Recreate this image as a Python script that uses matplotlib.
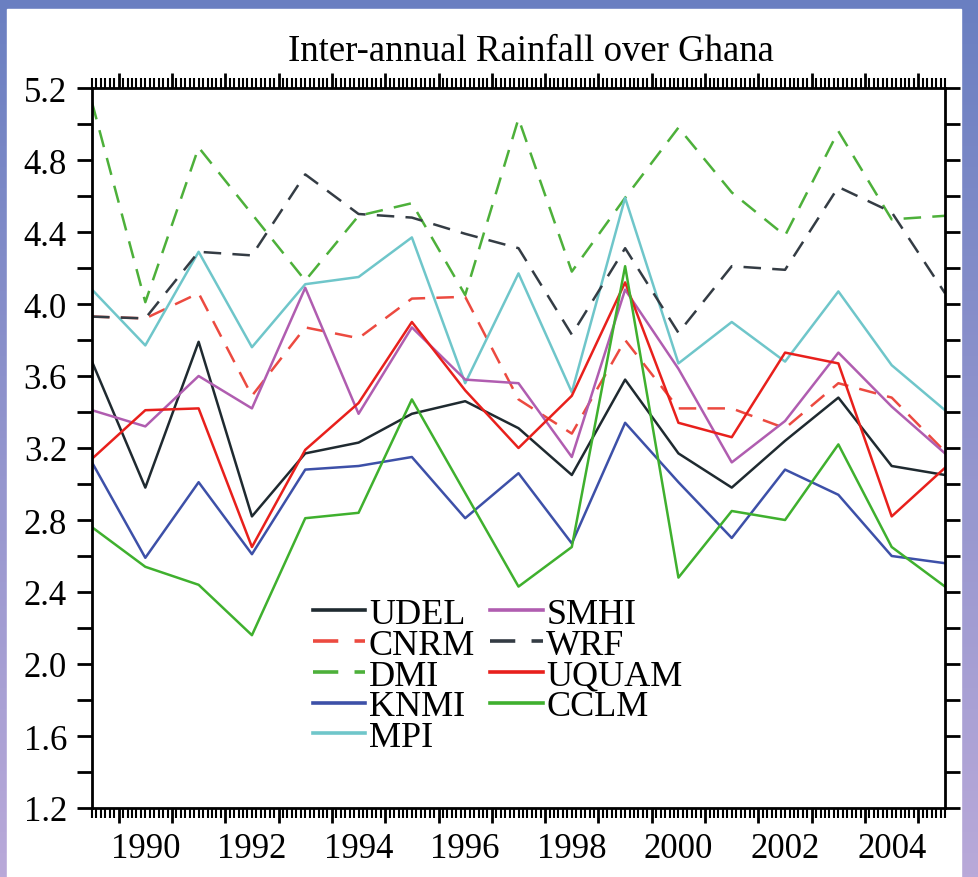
import numpy as np
import matplotlib
matplotlib.use("Agg")
import matplotlib.pyplot as plt
from matplotlib.ticker import MultipleLocator, NullFormatter
from matplotlib.patches import Rectangle

plt.rcParams["font.family"] = ["Liberation Serif", "DejaVu Serif"]

years = list(range(1989, 2006))

udel = [3.68, 2.98, 3.79, 2.82, 3.17, 3.23, 3.39, 3.46, 3.31, 3.05, 3.58, 3.17, 2.98, 3.24, 3.48, 3.10, 3.05]
cnrm = [3.93, 3.92, 4.06, 3.49, 3.87, 3.81, 4.03, 4.04, 3.47, 3.28, 3.80, 3.42, 3.42, 3.31, 3.56, 3.48, 3.18]
dmi = [5.12, 4.01, 4.87, 4.50, 4.13, 4.49, 4.56, 4.05, 5.03, 4.18, 4.59, 4.98, 4.62, 4.38, 4.96, 4.47, 4.49]
knmi = [3.12, 2.59, 3.01, 2.61, 3.08, 3.10, 3.15, 2.81, 3.06, 2.67, 3.34, 3.01, 2.70, 3.08, 2.94, 2.60, 2.56]
mpi = [4.08, 3.77, 4.29, 3.76, 4.11, 4.15, 4.37, 3.56, 4.17, 3.51, 4.59, 3.67, 3.90, 3.68, 4.07, 3.66, 3.41]
smhi = [3.41, 3.32, 3.60, 3.42, 4.09, 3.39, 3.87, 3.58, 3.56, 3.15, 4.08, 3.64, 3.12, 3.35, 3.73, 3.43, 3.17]
wrf = [3.93, 3.92, 4.29, 4.27, 4.72, 4.50, 4.48, 4.39, 4.31, 3.83, 4.31, 3.84, 4.21, 4.19, 4.65, 4.51, 4.06]
uquam = [3.14, 3.41, 3.42, 2.65, 3.19, 3.45, 3.90, 3.52, 3.20, 3.49, 4.12, 3.34, 3.26, 3.73, 3.67, 2.82, 3.09]
cclm = [2.76, 2.54, 2.44, 2.16, 2.81, 2.84, 3.47, 2.95, 2.43, 2.65, 4.21, 2.48, 2.85, 2.80, 3.22, 2.65, 2.43]

label_years = [1990, 1992, 1994, 1996, 1998, 2000, 2002, 2004]

W, H = 979, 878
fig = plt.figure(figsize=(W / 100, H / 100), dpi=100)

# slide-like coloured border
bg = fig.add_axes([0, 0, 1, 1], zorder=-5)
grad = np.linspace(0, 1, 256).reshape(-1, 1)
cmap = matplotlib.colors.LinearSegmentedColormap.from_list("b", ["#6a7fc1", "#b9a9d9"])
bg.imshow(grad, aspect="auto", cmap=cmap, extent=[0, 1, 0, 1], origin="upper")
bg.add_patch(Rectangle((7 / W, 0), (961 - 7) / W, 1 - 10 / H, color="white"))
bg.set_xlim(0, 1)
bg.set_ylim(0, 1)
bg.axis("off")

ax = fig.add_axes([92 / W, 1 - 809 / H, 853 / W, 720 / H])

series = [
    ("UDEL", udel, "#1f2a30", "-"),
    ("CNRM", cnrm, "#ec4a40", "--"),
    ("DMI", dmi, "#4db03a", "--"),
    ("KNMI", knmi, "#3d50a8", "-"),
    ("MPI", mpi, "#6fc6ca", "-"),
    ("SMHI", smhi, "#b05db0", "-"),
    ("WRF", wrf, "#343c44", "--"),
    ("UQUAM", uquam, "#e8201c", "-"),
    ("CCLM", cclm, "#3fb02e", "-"),
]
for name, vals, col, ls in series:
    ln, = ax.plot(years, vals, color=col, lw=1.8, ls=ls, label=name)
    if ls == "--":
        ln.set_dashes((7, 4.5))

ax.set_xlim(1989, 2005)
ax.set_ylim(1.2, 5.2)

for sp in ax.spines.values():
    sp.set_linewidth(2.0)

ax.xaxis.set_major_locator(MultipleLocator(1, offset=0.5))
ax.xaxis.set_minor_locator(MultipleLocator(1 / 12))
ax.xaxis.set_major_formatter(NullFormatter())
ax.tick_params(axis="x", which="major", direction="out", length=11, width=2.0,
               top=True, bottom=True)
ax.tick_params(axis="x", which="minor", direction="out", length=7, width=1.5,
               top=True, bottom=True)

ax.yaxis.set_major_locator(MultipleLocator(0.4))
ax.yaxis.set_minor_locator(MultipleLocator(0.2))
ax.yaxis.set_major_formatter(matplotlib.ticker.FormatStrFormatter("%.1f"))
ax.tick_params(axis="y", which="both", direction="out", length=11, width=2.0,
               left=True, right=True, labelsize=25, pad=7)

sec = ax.secondary_xaxis("bottom")
sec.set_xticks(label_years)
sec.set_xticklabels([str(y) for y in label_years])
sec.tick_params(length=0, labelsize=25, pad=17)
sec.spines["bottom"].set_visible(False)

ax.set_title("Inter-annual Rainfall over Ghana", fontsize=26.5, pad=20, x=0.515)

leg = ax.legend(loc="upper left", bbox_to_anchor=(0.259, 0.292), ncol=2, frameon=False,
                fontsize=26, handlelength=1.45, handletextpad=0.1, labelspacing=-0.07,
                columnspacing=0.42, borderpad=0, borderaxespad=0)
for h in leg.get_lines():
    h.set_linewidth(2.6)

fig.savefig("out.png", dpi=100)
